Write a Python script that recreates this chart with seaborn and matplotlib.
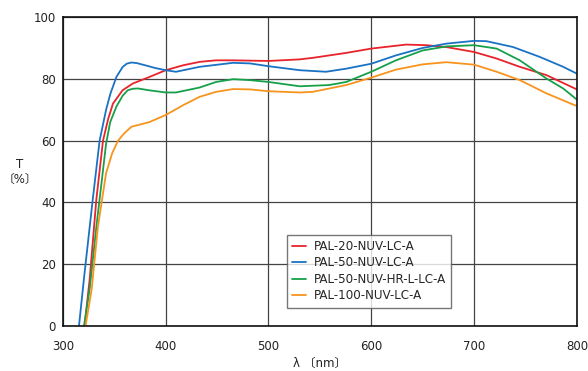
import pandas as pd
import seaborn as sns
import matplotlib.pyplot as plt

# wavelengths (nm) and transmittance (%)
wl_20 = [321, 326, 332.5, 339, 344, 348.7, 358, 368, 384, 400, 417, 433, 449, 465.6, 500, 530, 543,
         575.6, 600, 634, 653.6, 673, 700, 721.8, 744.5, 770.5, 800]
t_20 = [0, 15, 40.9, 60, 67, 72, 76.3, 78.5, 80.6, 82.8, 84.4, 85.5, 86, 86, 85.8, 86.3, 86.8,
        88.4, 89.8, 91.1, 90.9, 90.3, 88.7, 86.6, 83.9, 81.2, 76.6]

wl_50 = [315.6, 321, 329, 335.7, 342, 346, 352, 358, 362, 366.6, 372, 380, 390, 400, 410, 433,
         465.6, 482, 500, 530.5, 556, 575.6, 600, 624, 650, 673, 700, 712, 738, 764, 786.7, 800]
t_50 = [0, 17, 40.9, 60, 70, 75, 80.6, 83.8, 84.9, 85.3, 85.1, 84.4, 83.5, 82.8, 82.3, 83.9,
        85.2, 85, 84.1, 82.8, 82.3, 83.3, 84.9, 87.6, 90, 91.4, 92.3, 92.2, 90.3, 87.1, 83.9, 81.7]

wl_hr = [320.5, 326, 332.5, 342, 346, 352, 358, 363, 368, 373, 384, 400, 410, 433, 449, 465.6,
         482, 500, 530.5, 559, 575.6, 600, 624, 650, 673, 700, 722, 744.5, 770.5, 786.7, 800]
t_hr = [0, 12, 32, 59, 66, 71, 74.5, 76.3, 76.8, 76.9, 76.3, 75.6, 75.6, 77.2, 79, 79.9,
        79.6, 79, 77.6, 78, 79, 82.3, 86, 89.2, 90.5, 90.9, 89.8, 86, 80.1, 76.9, 73.3]

wl_100 = [322, 328, 334, 342, 348, 353.6, 360, 366.6, 384, 400, 417, 433, 449, 465.6, 482, 500,
          530.5, 543, 575.6, 600, 624, 650, 673, 700, 722, 744.5, 770.5, 800]
t_100 = [0, 12, 32, 49.5, 56, 60, 62.5, 64.5, 66, 68.3, 71.5, 74.2, 75.8, 76.7, 76.6, 76,
         75.6, 75.8, 78, 80.4, 83, 84.7, 85.4, 84.6, 82.3, 79.6, 75.3, 71.2]

names = ['PAL-20-NUV-LC-A', 'PAL-50-NUV-LC-A', 'PAL-50-NUV-HR-L-LC-A', 'PAL-100-NUV-LC-A']
colors = ['#e8232b', '#1a72c4', '#16a04a', '#f7941d']

frames = []
for name, wl, t in zip(names, [wl_20, wl_50, wl_hr, wl_100], [t_20, t_50, t_hr, t_100]):
    frames.append(pd.DataFrame({'wl': wl, 'T': t, 'lens': name}))
df = pd.concat(frames)

sns.set_style('white')
plt.rcParams['font.family'] = ['DejaVu Sans', 'Noto Sans CJK JP']

fig = plt.figure(figsize=(5.88, 3.71), dpi=100)
ax = fig.add_axes([0.107, 0.121, 0.874, 0.833])

sns.lineplot(data=df, x='wl', y='T', hue='lens', palette=colors, sort=False,
             estimator=None, linewidth=1.3, ax=ax)

ax.set_xlim(300, 800)
ax.set_ylim(0, 100)
ax.set_xticks([300, 400, 500, 600, 700, 800])
ax.set_yticks([0, 20, 40, 60, 80, 100])
ax.grid(True, color='#444444', linewidth=0.9)
ax.set_axisbelow(True)
for s in ax.spines.values():
    s.set_color('#111111')
    s.set_linewidth(1.2)
ax.tick_params(axis='x', length=0, labelsize=8.5, colors='#222222', pad=10)
ax.tick_params(axis='y', length=0, labelsize=8.5, colors='#222222', pad=5)

ax.set_xlabel('λ 〔nm〕', fontsize=8.5, color='#222222', labelpad=3)
ax.set_ylabel('T\n〔%〕', fontsize=8.5, color='#222222', rotation=0,
              va='center', ha='center')
ax.yaxis.set_label_coords(-0.084, 0.50)

leg = ax.legend(loc='upper left', bbox_to_anchor=(0.424, 0.315), fontsize=8.6,
                frameon=True, fancybox=False, handlelength=1.2, handletextpad=0.6,
                borderpad=0.45, labelspacing=0.28)
leg.get_frame().set_edgecolor('#555555')
leg.get_frame().set_linewidth(1.0)
leg.set_title(None)

fig.savefig('out.png', dpi=100)
